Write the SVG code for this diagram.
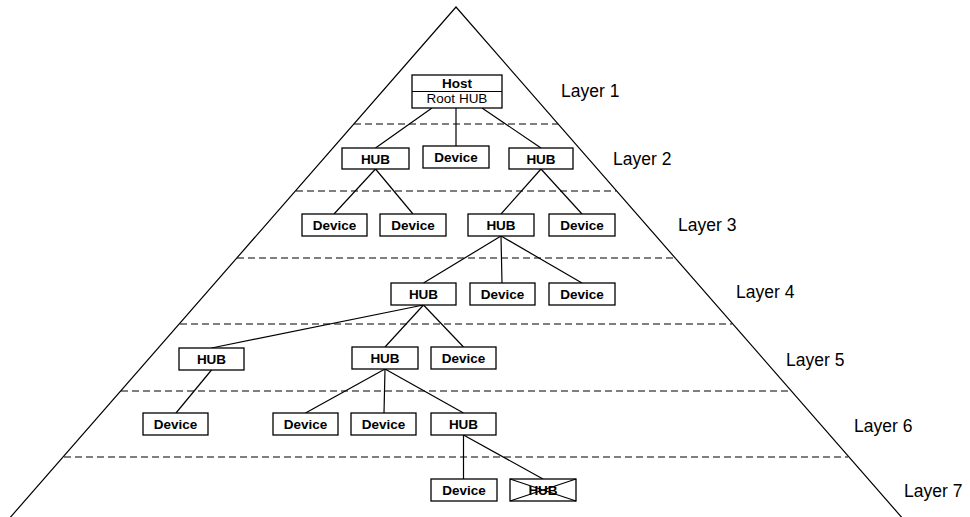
<svg xmlns="http://www.w3.org/2000/svg" width="970" height="517" viewBox="0 0 970 517">
  <style>
    .edge { stroke: #000; stroke-width: 1.2; fill: none; }
    .sep { stroke: #000; stroke-width: 1.2; stroke-dasharray: 7 4; fill: none; }
    .box { fill: #fff; stroke: #000; stroke-width: 1.3; }
    .lbl { font-family: "Liberation Sans", Arial, sans-serif; font-size: 13.5px; font-weight: bold; text-anchor: middle; fill: #000; }
    .lbl-n { font-family: "Liberation Sans", Arial, sans-serif; font-size: 13.5px; text-anchor: middle; fill: #000; }
    .layer { font-family: "Liberation Sans", Arial, sans-serif; font-size: 17.5px; fill: #000; }
  </style>
  <rect width="970" height="517" fill="#fff"/>

  <!-- pyramid outline -->
  <polyline class="edge" points="8,520 456,7 904,520"/>

  <!-- layer separators -->
  <g id="separators">
    <line class="sep" x1="354" y1="124" x2="558" y2="124"/>
    <line class="sep" x1="296" y1="191" x2="616" y2="191"/>
    <line class="sep" x1="237" y1="258" x2="675" y2="258"/>
    <line class="sep" x1="180" y1="324" x2="732" y2="324"/>
    <line class="sep" x1="121" y1="391" x2="791" y2="391"/>
    <line class="sep" x1="64" y1="457" x2="848" y2="457"/>
  </g>

  <!-- connectors -->
  <g id="connectors">
    <line class="edge" x1="432" y1="108" x2="375.5" y2="148"/>
    <line class="edge" x1="456" y1="108" x2="456" y2="146"/>
    <line class="edge" x1="482" y1="108" x2="541" y2="148"/>
    <line class="edge" x1="375.5" y1="169" x2="334" y2="214"/>
    <line class="edge" x1="375.5" y1="169" x2="413" y2="214"/>
    <line class="edge" x1="541" y1="169" x2="501" y2="214"/>
    <line class="edge" x1="541" y1="169" x2="582" y2="214"/>
    <line class="edge" x1="501" y1="236" x2="423.5" y2="283"/>
    <line class="edge" x1="501" y1="236" x2="502" y2="283"/>
    <line class="edge" x1="501" y1="236" x2="582" y2="283"/>
    <line class="edge" x1="423.5" y1="305" x2="211.5" y2="348"/>
    <line class="edge" x1="423.5" y1="305" x2="385" y2="347"/>
    <line class="edge" x1="423.5" y1="305" x2="463.5" y2="347"/>
    <line class="edge" x1="211.5" y1="370" x2="176" y2="413"/>
    <line class="edge" x1="385" y1="369" x2="305.5" y2="413"/>
    <line class="edge" x1="385" y1="369" x2="384" y2="413"/>
    <line class="edge" x1="385" y1="369" x2="463.5" y2="413"/>
    <line class="edge" x1="463.5" y1="435" x2="463.5" y2="479"/>
    <line class="edge" x1="463.5" y1="435" x2="543" y2="479"/>
  </g>

  <!-- layer 1 -->
  <g id="host">
    <rect class="box" x="412" y="75" width="90" height="33"/>
    <line class="edge" x1="412" y1="91.5" x2="502" y2="91.5" stroke-width="1.3"/>
    <text class="lbl" x="457" y="87.5">Host</text>
    <text class="lbl-n" x="457" y="103">Root HUB</text>
  </g>

  <!-- layer 2 -->
  <g id="l2-hub-a"><rect class="box" x="342" y="148" width="67" height="21"/><text class="lbl" x="375.5" y="163.5">HUB</text></g>
  <g id="l2-dev"><rect class="box" x="423" y="146" width="66" height="22"/><text class="lbl" x="456" y="162">Device</text></g>
  <g id="l2-hub-b"><rect class="box" x="509" y="148" width="64" height="21"/><text class="lbl" x="541" y="163.5">HUB</text></g>

  <!-- layer 3 -->
  <g id="l3-dev-a"><rect class="box" x="302" y="214" width="65" height="22"/><text class="lbl" x="334.5" y="230">Device</text></g>
  <g id="l3-dev-b"><rect class="box" x="380" y="214" width="66" height="22"/><text class="lbl" x="413" y="230">Device</text></g>
  <g id="l3-hub"><rect class="box" x="468" y="214" width="66" height="22"/><text class="lbl" x="501" y="230">HUB</text></g>
  <g id="l3-dev-c"><rect class="box" x="549" y="214" width="66" height="22"/><text class="lbl" x="582" y="230">Device</text></g>

  <!-- layer 4 -->
  <g id="l4-hub"><rect class="box" x="391" y="283" width="65" height="22"/><text class="lbl" x="423.5" y="299">HUB</text></g>
  <g id="l4-dev-a"><rect class="box" x="470" y="283" width="65" height="22"/><text class="lbl" x="502.5" y="299">Device</text></g>
  <g id="l4-dev-b"><rect class="box" x="549" y="283" width="66" height="22"/><text class="lbl" x="582" y="299">Device</text></g>

  <!-- layer 5 -->
  <g id="l5-hub-a"><rect class="box" x="179" y="348" width="65" height="22"/><text class="lbl" x="211.5" y="364">HUB</text></g>
  <g id="l5-hub-b"><rect class="box" x="352" y="347" width="66" height="22"/><text class="lbl" x="385" y="363">HUB</text></g>
  <g id="l5-dev"><rect class="box" x="431" y="347" width="65" height="22"/><text class="lbl" x="463.5" y="363">Device</text></g>

  <!-- layer 6 -->
  <g id="l6-dev-a"><rect class="box" x="143" y="413" width="65" height="22"/><text class="lbl" x="175.5" y="429">Device</text></g>
  <g id="l6-dev-b"><rect class="box" x="273" y="413" width="65" height="22"/><text class="lbl" x="305.5" y="429">Device</text></g>
  <g id="l6-dev-c"><rect class="box" x="351" y="413" width="65" height="22"/><text class="lbl" x="383.5" y="429">Device</text></g>
  <g id="l6-hub"><rect class="box" x="431" y="413" width="65" height="22"/><text class="lbl" x="463.5" y="429">HUB</text></g>

  <!-- layer 7 -->
  <g id="l7-dev"><rect class="box" x="431" y="479" width="66" height="22"/><text class="lbl" x="464" y="495">Device</text></g>
  <g id="l7-hub-x">
    <rect class="box" x="510" y="479" width="66" height="22"/>
    <text class="lbl" x="543" y="495">HUB</text>
    <line class="edge" x1="510" y1="479" x2="576" y2="501"/>
    <line class="edge" x1="510" y1="501" x2="576" y2="479"/>
  </g>

  <!-- layer captions -->
  <g id="layer-labels">
    <text class="layer" x="561" y="97">Layer 1</text>
    <text class="layer" x="613" y="165">Layer 2</text>
    <text class="layer" x="678" y="231">Layer 3</text>
    <text class="layer" x="736" y="298">Layer 4</text>
    <text class="layer" x="786" y="366">Layer 5</text>
    <text class="layer" x="854" y="432">Layer 6</text>
    <text class="layer" x="904" y="497">Layer 7</text>
  </g>
</svg>
